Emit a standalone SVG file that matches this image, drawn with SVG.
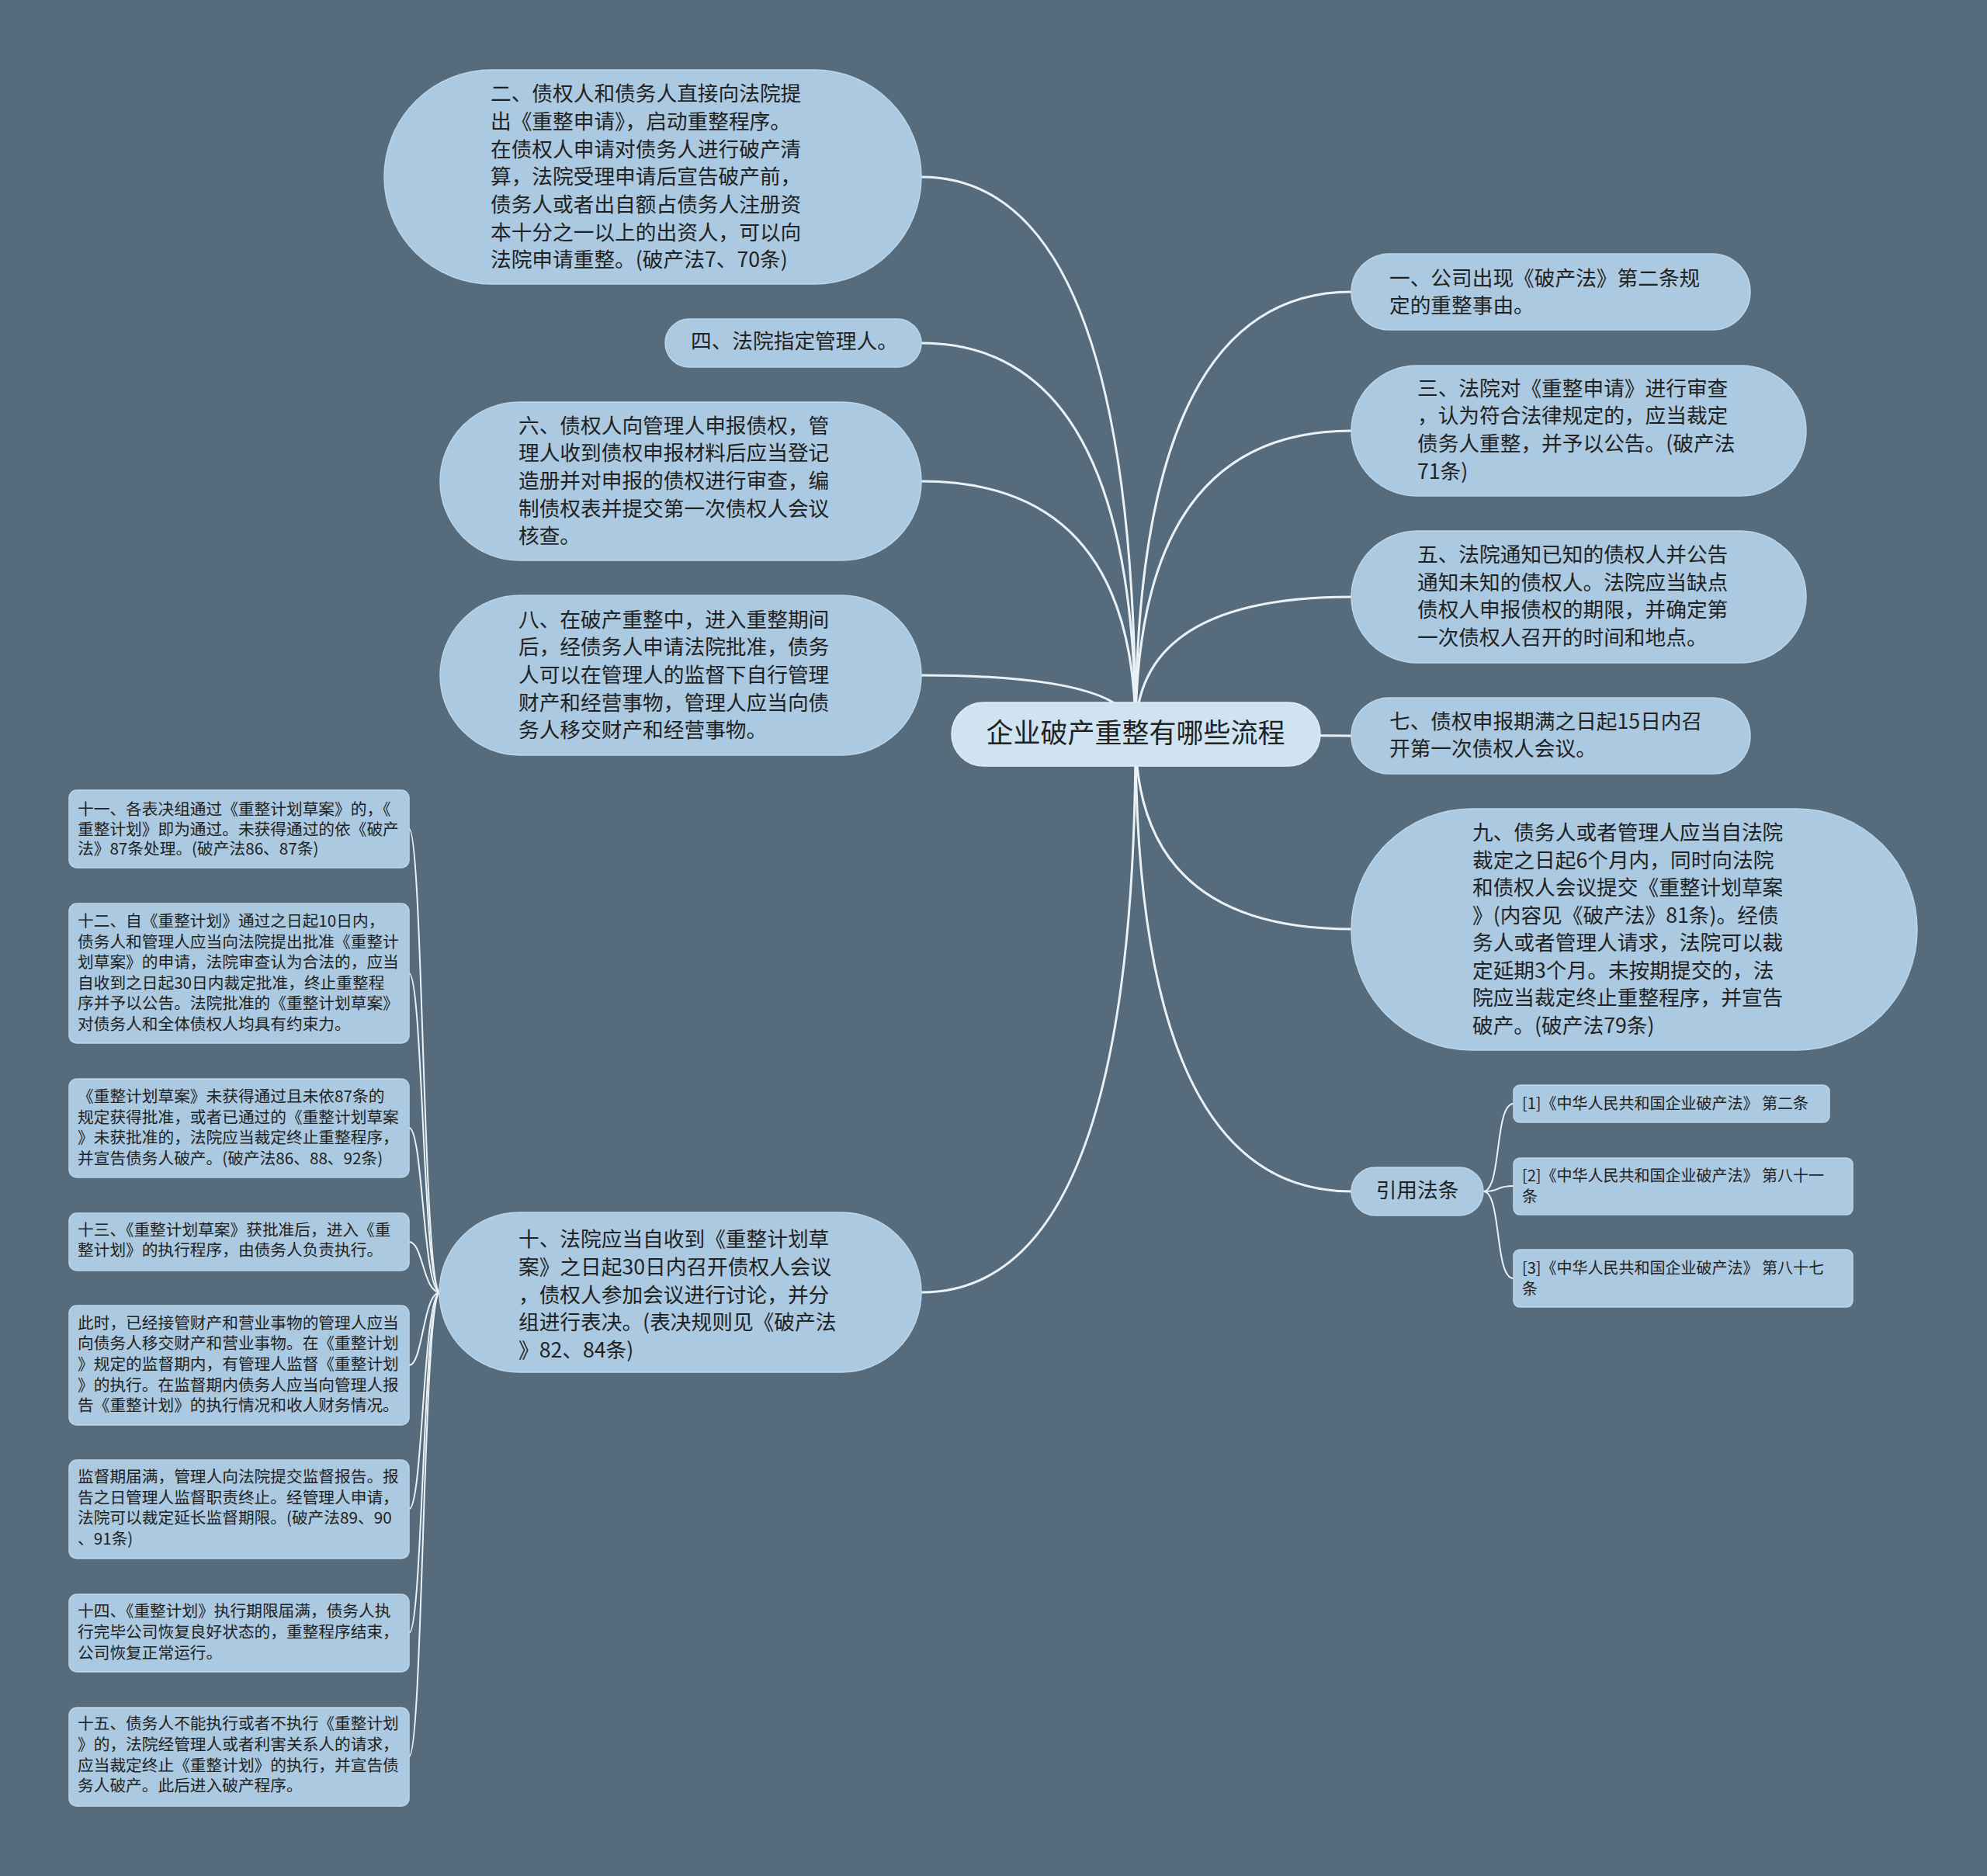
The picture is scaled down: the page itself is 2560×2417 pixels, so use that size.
<svg xmlns="http://www.w3.org/2000/svg" width="2560" height="2417" viewBox="0 0 2560 2417">
<style>
.bg{fill:#566b7b}
.n{fill:#abc9e0;stroke:#bcd5e8;stroke-width:1.5}
.r{fill:#cfe4f0;stroke:#ddeef7;stroke-width:1.5}
.t{font-family:"Noto Sans CJK SC","Noto Sans",sans-serif;fill:#222}
.f27{font-size:26.7px}
.f21{font-size:20.7px}
.f20{font-size:20px}
.f35{font-size:35px}
.c{fill:none;stroke:#eaf2f7;stroke-width:3}
.cs{fill:none;stroke:#eaf2f7;stroke-width:2}
</style>
<rect class="bg" x="0" y="0" width="2560" height="2417"/>
<g id="connectors">
<path class="c" d="M1187 228 Q1463 228 1463 946"/>
<path class="c" d="M1187 442 Q1463 442 1463 946"/>
<path class="c" d="M1187 620 Q1463 620 1463 946"/>
<path class="c" d="M1187 870 Q1463 870 1463 946"/>
<path class="c" d="M1187 1665 Q1463 1665 1463 946"/>
<path class="c" d="M1741 376 Q1463 376 1463 946"/>
<path class="c" d="M1741 555 Q1463 555 1463 946"/>
<path class="c" d="M1741 769 Q1463 769 1463 946"/>
<path class="c" d="M1741 948 L1463 946"/>
<path class="c" d="M1741 1197 Q1463 1197 1463 946"/>
<path class="c" d="M1741 1535 Q1463 1535 1463 946"/>
<path class="cs" d="M1911 1535 C1935 1535 1925 1422 1950 1422"/>
<path class="cs" d="M1911 1535 C1935 1535 1925 1528 1950 1528"/>
<path class="cs" d="M1911 1535 C1935 1535 1925 1647 1950 1647"/>
<path class="cs" d="M567 1665 C545 1665 545 1068 527 1068"/>
<path class="cs" d="M567 1665 C545 1665 545 1254 527 1254"/>
<path class="cs" d="M567 1665 C545 1665 545 1453 527 1453"/>
<path class="cs" d="M567 1665 C545 1665 545 1600 527 1600"/>
<path class="cs" d="M567 1665 C545 1665 545 1759 527 1759"/>
<path class="cs" d="M567 1665 C545 1665 545 1944 527 1944"/>
<path class="cs" d="M567 1665 C545 1665 545 2104 527 2104"/>
<path class="cs" d="M567 1665 C545 1665 545 2263 527 2263"/>
</g>
<g id="root">
<rect class="r" x="1226" y="905" width="475" height="82" rx="41"/>
<text class="t f35" x="1463" y="957" text-anchor="middle">企业破产重整有哪些流程</text>
</g>
<g id="n2">
<rect class="n" x="495" y="90" width="692" height="276" rx="138"/>
<text class="t f27"><tspan x="632" y="130">二、债权人和债务人直接向法院提</tspan><tspan x="632" y="166">出《重整申请》，启动重整程序。</tspan><tspan x="632" y="202">在债权人申请对债务人进行破产清</tspan><tspan x="632" y="237">算，法院受理申请后宣告破产前，</tspan><tspan x="632" y="273">债务人或者出自额占债务人注册资</tspan><tspan x="632" y="309">本十分之一以上的出资人，可以向</tspan><tspan x="632" y="344">法院申请重整。(破产法7、70条)</tspan></text>
</g>
<g id="n4">
<rect class="n" x="857" y="411" width="330" height="62" rx="31"/>
<text class="t f27" x="890" y="449">四、法院指定管理人。</text>
</g>
<g id="n6">
<rect class="n" x="567" y="518" width="620" height="204" rx="102"/>
<text class="t f27"><tspan x="668" y="558">六、债权人向管理人申报债权，管</tspan><tspan x="668" y="593">理人收到债权申报材料后应当登记</tspan><tspan x="668" y="629">造册并对申报的债权进行审查，编</tspan><tspan x="668" y="665">制债权表并提交第一次债权人会议</tspan><tspan x="668" y="700">核查。</tspan></text>
</g>
<g id="n8">
<rect class="n" x="567" y="767" width="620" height="206" rx="103"/>
<text class="t f27"><tspan x="668" y="808">八、在破产重整中，进入重整期间</tspan><tspan x="668" y="843">后，经债务人申请法院批准，债务</tspan><tspan x="668" y="879">人可以在管理人的监督下自行管理</tspan><tspan x="668" y="915">财产和经营事物，管理人应当向债</tspan><tspan x="668" y="950">务人移交财产和经营事物。</tspan></text>
</g>
<g id="n10">
<rect class="n" x="566" y="1562" width="621" height="206" rx="103"/>
<text class="t f27"><tspan x="668" y="1606">十、法院应当自收到《重整计划草</tspan><tspan x="668" y="1642">案》之日起30日内召开债权人会议</tspan><tspan x="668" y="1678">，债权人参加会议进行讨论，并分</tspan><tspan x="668" y="1713">组进行表决。(表决规则见《破产法</tspan><tspan x="668" y="1749">》82、84条)</tspan></text>
</g>
<g id="n1">
<rect class="n" x="1741" y="327" width="514" height="98" rx="49"/>
<text class="t f27"><tspan x="1790" y="368">一、公司出现《破产法》第二条规</tspan><tspan x="1790" y="403">定的重整事由。</tspan></text>
</g>
<g id="n3">
<rect class="n" x="1741" y="471" width="586" height="168" rx="84"/>
<text class="t f27"><tspan x="1826" y="510">三、法院对《重整申请》进行审查</tspan><tspan x="1826" y="545">，认为符合法律规定的，应当裁定</tspan><tspan x="1826" y="581">债务人重整，并予以公告。(破产法</tspan><tspan x="1826" y="617">71条)</tspan></text>
</g>
<g id="n5">
<rect class="n" x="1741" y="684" width="586" height="170" rx="85"/>
<text class="t f27"><tspan x="1826" y="724">五、法院通知已知的债权人并公告</tspan><tspan x="1826" y="760">通知未知的债权人。法院应当缺点</tspan><tspan x="1826" y="795">债权人申报债权的期限，并确定第</tspan><tspan x="1826" y="831">一次债权人召开的时间和地点。</tspan></text>
</g>
<g id="n7">
<rect class="n" x="1741" y="899" width="514" height="98" rx="49"/>
<text class="t f27"><tspan x="1790" y="939">七、债权申报期满之日起15日内召</tspan><tspan x="1790" y="974">开第一次债权人会议。</tspan></text>
</g>
<g id="n9">
<rect class="n" x="1741" y="1042" width="729" height="311" rx="155"/>
<text class="t f27"><tspan x="1897" y="1082">九、债务人或者管理人应当自法院</tspan><tspan x="1897" y="1118">裁定之日起6个月内，同时向法院</tspan><tspan x="1897" y="1153">和债权人会议提交《重整计划草案</tspan><tspan x="1897" y="1189">》(内容见《破产法》81条)。经债</tspan><tspan x="1897" y="1224">务人或者管理人请求，法院可以裁</tspan><tspan x="1897" y="1260">定延期3个月。未按期提交的，法</tspan><tspan x="1897" y="1295">院应当裁定终止重整程序，并宣告</tspan><tspan x="1897" y="1331">破产。(破产法79条)</tspan></text>
</g>
<g id="ref">
<rect class="n" x="1741" y="1504" width="170" height="62" rx="31"/>
<text class="t f27" x="1826" y="1543" text-anchor="middle">引用法条</text>
</g>
<g id="ref1">
<rect class="n" x="1950" y="1398" width="407" height="48" rx="8"/>
<text class="t f20" x="1961" y="1429">[1]《中华人民共和国企业破产法》 第二条</text>
</g>
<g id="ref2">
<rect class="n" x="1950" y="1492" width="437" height="73" rx="8"/>
<text class="t f20"><tspan x="1961" y="1522">[2]《中华人民共和国企业破产法》 第八十一</tspan><tspan x="1961" y="1549">条</tspan></text>
</g>
<g id="ref3">
<rect class="n" x="1950" y="1610" width="437" height="74" rx="8"/>
<text class="t f20"><tspan x="1961" y="1641">[3]《中华人民共和国企业破产法》 第八十七</tspan><tspan x="1961" y="1668">条</tspan></text>
</g>
<g id="n11">
<rect class="n" x="89" y="1018" width="438" height="100" rx="10"/>
<text class="t f21"><tspan x="100" y="1050">十一、各表决组通过《重整计划草案》的，《</tspan><tspan x="100" y="1076">重整计划》即为通过。未获得通过的依《破产</tspan><tspan x="100" y="1101">法》87条处理。(破产法86、87条)</tspan></text>
</g>
<g id="n12">
<rect class="n" x="89" y="1164" width="438" height="180" rx="10"/>
<text class="t f21"><tspan x="100" y="1194">十二、自《重整计划》通过之日起10日内，</tspan><tspan x="100" y="1221">债务人和管理人应当向法院提出批准《重整计</tspan><tspan x="100" y="1247">划草案》的申请，法院审查认为合法的，应当</tspan><tspan x="100" y="1274">自收到之日起30日内裁定批准，终止重整程</tspan><tspan x="100" y="1300">序并予以公告。法院批准的《重整计划草案》</tspan><tspan x="100" y="1327">对债务人和全体债权人均具有约束力。</tspan></text>
</g>
<g id="n12b">
<rect class="n" x="89" y="1390" width="438" height="127" rx="10"/>
<text class="t f21"><tspan x="100" y="1420">《重整计划草案》未获得通过且未依87条的</tspan><tspan x="100" y="1447">规定获得批准，或者已通过的《重整计划草案</tspan><tspan x="100" y="1473">》未获批准的，法院应当裁定终止重整程序，</tspan><tspan x="100" y="1500">并宣告债务人破产。(破产法86、88、92条)</tspan></text>
</g>
<g id="n13">
<rect class="n" x="89" y="1563" width="438" height="74" rx="10"/>
<text class="t f21"><tspan x="100" y="1592">十三、《重整计划草案》获批准后，进入《重</tspan><tspan x="100" y="1618">整计划》的执行程序，由债务人负责执行。</tspan></text>
</g>
<g id="n13b">
<rect class="n" x="89" y="1682" width="438" height="154" rx="10"/>
<text class="t f21"><tspan x="100" y="1712">此时，已经接管财产和营业事物的管理人应当</tspan><tspan x="100" y="1738">向债务人移交财产和营业事物。在《重整计划</tspan><tspan x="100" y="1765">》规定的监督期内，有管理人监督《重整计划</tspan><tspan x="100" y="1792">》的执行。在监督期内债务人应当向管理人报</tspan><tspan x="100" y="1818">告《重整计划》的执行情况和收人财务情况。</tspan></text>
</g>
<g id="n13c">
<rect class="n" x="89" y="1881" width="438" height="127" rx="10"/>
<text class="t f21"><tspan x="100" y="1910">监督期届满，管理人向法院提交监督报告。报</tspan><tspan x="100" y="1937">告之日管理人监督职责终止。经管理人申请，</tspan><tspan x="100" y="1963">法院可以裁定延长监督期限。(破产法89、90</tspan><tspan x="100" y="1990">、91条)</tspan></text>
</g>
<g id="n14">
<rect class="n" x="89" y="2054" width="438" height="100" rx="10"/>
<text class="t f21"><tspan x="100" y="2083">十四、《重整计划》执行期限届满，债务人执</tspan><tspan x="100" y="2110">行完毕公司恢复良好状态的，重整程序结束，</tspan><tspan x="100" y="2137">公司恢复正常运行。</tspan></text>
</g>
<g id="n15">
<rect class="n" x="89" y="2200" width="438" height="127" rx="10"/>
<text class="t f21"><tspan x="100" y="2228">十五、债务人不能执行或者不执行《重整计划</tspan><tspan x="100" y="2255">》的，法院经管理人或者利害关系人的请求，</tspan><tspan x="100" y="2282">应当裁定终止《重整计划》的执行，并宣告债</tspan><tspan x="100" y="2308">务人破产。此后进入破产程序。</tspan></text>
</g>
</svg>
